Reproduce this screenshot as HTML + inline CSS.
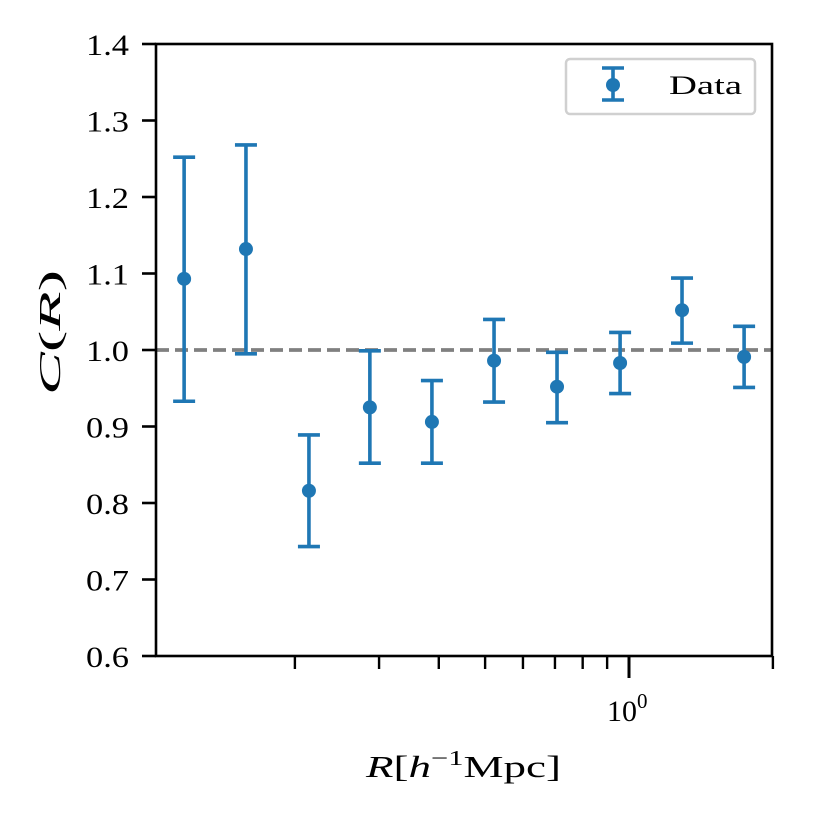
<!DOCTYPE html>
<html><head><meta charset="utf-8"><style>
body{margin:0;background:#fff;}
svg text{font-family:"Liberation Serif","DejaVu Serif",serif;fill:#000;}
</style></head><body>
<svg id="chart" width="830" height="816" xmlns="http://www.w3.org/2000/svg">
<g id="plot"></g>
</svg>
<script>
const xValues=[0.1173,0.158,0.214,0.287,0.387,0.522,0.707,0.958,1.291,1.741];
const yValues=[1.093,1.132,0.816,0.925,0.906,0.986,0.952,0.983,1.052,0.991];
const yUpper=[1.252,1.268,0.889,0.999,0.960,1.040,0.997,1.023,1.094,1.031];
const yLower=[0.933,0.995,0.743,0.852,0.852,0.932,0.905,0.943,1.009,0.951];
const yTicks=[0.6,0.7,0.8,0.9,1.0,1.1,1.2,1.3,1.4];
const yTickLabels=["0.6","0.7","0.8","0.9","1.0","1.1","1.2","1.3","1.4"];
const xMinorTicks=[0.2,0.3,0.4,0.5,0.6,0.7,0.8,0.9,2];
const xMajorTicks=[1];
const refLine=1.0;

const L=156,R=772,T=44,B=656;
const xs=v=>629+478*Math.log10(v);
const ys=v=>B-(v-0.6)/0.8*(B-T);
const NS="http://www.w3.org/2000/svg";
const g=document.getElementById('plot');
function mk(tag,attrs,parent){const e=document.createElementNS(NS,tag);for(const k in attrs)e.setAttribute(k,attrs[k]);(parent||g).appendChild(e);return e;}

const rl=mk('line',{x1:L,x2:R,y1:ys(refLine),y2:ys(refLine),stroke:'#808080','stroke-width':3.8,'stroke-dasharray':'13,6'});



const C='#1f77b4';
xValues.forEach((xv,i)=>{
  const x=xs(xv);
  const grp=mk('g',{});
  
  
  mk('line',{x1:x,x2:x,y1:ys(yUpper[i]),y2:ys(yLower[i]),stroke:C,'stroke-width':3.6},grp);
  mk('line',{x1:x-11,x2:x+11,y1:ys(yUpper[i]),y2:ys(yUpper[i]),stroke:C,'stroke-width':3.6},grp);
  mk('line',{x1:x-11,x2:x+11,y1:ys(yLower[i]),y2:ys(yLower[i]),stroke:C,'stroke-width':3.6},grp);
  mk('circle',{cx:x,cy:ys(yValues[i]),r:7,fill:C},grp);
});

const fr=mk('rect',{x:L,y:T,width:R-L,height:B-T,fill:'none',stroke:'#000','stroke-width':2.6});



yTicks.forEach((v,i)=>{
  const y=ys(v);
  mk('line',{x1:L-14,x2:L,y1:y,y2:y,stroke:'#000','stroke-width':2.6});
  const t=mk('text',{x:129,y:y+11,'text-anchor':'end','font-size':30,textLength:43,lengthAdjust:'spacingAndGlyphs'});
  t.textContent=yTickLabels[i];
  
  
});
xMinorTicks.forEach(v=>{const x=xs(v);mk('line',{x1:x,x2:x,y1:B,y2:B+13,stroke:'#000','stroke-width':2.4});});
xMajorTicks.forEach(v=>{
  const x=xs(v);mk('line',{x1:x,x2:x,y1:B,y2:B+22,stroke:'#000','stroke-width':3});
  const t=mk('text',{x:607,y:721,'font-size':30});
  t.innerHTML='10<tspan dy="-13" font-size="21">0</tspan>';
  
  
});
</script>
<svg style="position:absolute;left:0;top:0" width="830" height="816">
<text x="366" y="777" font-size="31" textLength="195" lengthAdjust="spacingAndGlyphs"><tspan font-style="italic">R</tspan>[<tspan font-style="italic">h</tspan><tspan dy="-12" font-size="21">−1</tspan><tspan dy="12">Mpc]</tspan></text>
<text transform="translate(60,395) rotate(-90)" font-size="31" textLength="125" lengthAdjust="spacingAndGlyphs"><tspan font-style="italic">C</tspan>(<tspan font-style="italic">R</tspan>)</text>
<g>
<rect x="566" y="59" width="189" height="55" rx="4" fill="#fff" stroke="#d0d0d0" stroke-width="2.5"/>
<line x1="613" y1="68" x2="613" y2="100" stroke="#1f77b4" stroke-width="3.6"/>
<line x1="602" y1="68" x2="624" y2="68" stroke="#1f77b4" stroke-width="3.6"/>
<line x1="602" y1="100" x2="624" y2="100" stroke="#1f77b4" stroke-width="3.6"/>
<circle cx="613" cy="85" r="7" fill="#1f77b4"/>
<text x="669" y="94" font-size="26" textLength="73" lengthAdjust="spacingAndGlyphs">Data</text>
</g>
</svg>
</body></html>
